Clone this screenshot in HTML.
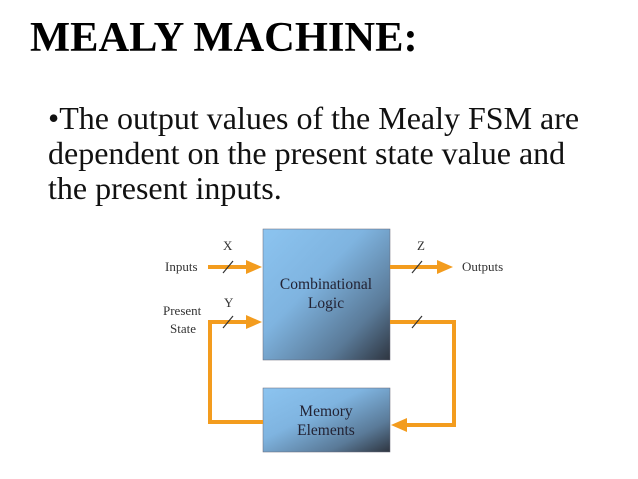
<!DOCTYPE html>
<html><head><style>
body{margin:0;width:638px;height:479px;background:#fff;overflow:hidden;font-family:"Liberation Serif",serif;}
.t{position:absolute;left:30px;top:13px;font-size:42.5px;font-weight:bold;color:#000;white-space:nowrap}
.b{position:absolute;left:48px;top:101px;font-size:32px;line-height:35px;color:#111;width:600px;white-space:nowrap}
</style></head><body>
<div class="t">MEALY MACHINE:</div>
<div class="b">•The output values of the Mealy FSM are<br>dependent on the present state value and<br>the present inputs.</div>
<svg width="638" height="479" style="position:absolute;left:0;top:0" font-family="Liberation Serif, serif">
<defs>
<linearGradient id="g" x1="0" y1="0" x2="1" y2="1">
<stop offset="0" stop-color="#8cc4f0"/><stop offset="0.4" stop-color="#7fb4e0"/><stop offset="0.75" stop-color="#5a7a98"/><stop offset="1" stop-color="#2e3540"/>
</linearGradient>
</defs>
<rect x="263" y="229" width="127" height="131" fill="url(#g)" stroke="#667" stroke-width="0.5"/>
<rect x="263" y="388" width="127" height="64" fill="url(#g)" stroke="#667" stroke-width="0.5"/>
<g stroke="#f39c1e" stroke-width="4" fill="none">
<line x1="208" y1="267" x2="250" y2="267"/>
<line x1="390" y1="267" x2="440" y2="267"/>
<polyline points="263,422 210,422 210,322 250,322"/>
<polyline points="390,322 454,322 454,425 402,425"/>
</g>
<g fill="#f39c1e">
<polygon points="262,267 246,260 246,274"/>
<polygon points="453,267 437,260 437,274"/>
<polygon points="262,322 246,315 246,329"/>
<polygon points="391,425 407,418 407,432"/>
</g>
<g stroke="#333" stroke-width="1.2">
<line x1="223" y1="273" x2="233" y2="261"/>
<line x1="412" y1="273" x2="422" y2="261"/>
<line x1="223" y1="328" x2="233" y2="316"/>
<line x1="412" y1="328" x2="422" y2="316"/>
</g>
<g font-size="13" fill="#333">
<text x="165" y="271">Inputs</text>
<text x="462" y="271">Outputs</text>
<text x="223" y="250">X</text>
<text x="417" y="250">Z</text>
<text x="224" y="307">Y</text>
<text x="163" y="315">Present</text>
<text x="170" y="333">State</text>
</g>
<g font-size="15.5" fill="#223" text-anchor="middle">
<text x="326" y="289">Combinational</text>
<text x="326" y="308">Logic</text>
<text x="326" y="416">Memory</text>
<text x="326" y="435">Elements</text>
</g>
</svg>
</body></html>
